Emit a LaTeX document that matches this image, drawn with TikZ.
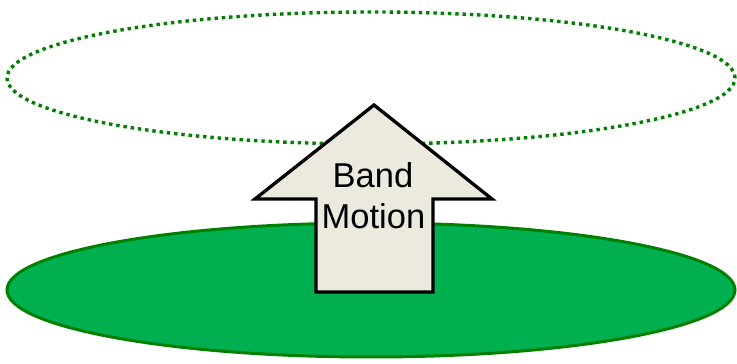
\documentclass[tikz,border=0pt]{standalone}
\usepackage{fontspec}
\setmainfont{Liberation Sans}
\definecolor{bandgreen}{RGB}{0,176,80}
\definecolor{edgegreen}{RGB}{0,128,0}
\definecolor{arrowfill}{RGB}{236,233,223}
\tikzset{
  dottedring/.style={draw=edgegreen, line width=3.4pt, line cap=butt, dash pattern=on 3.4pt off 3.9pt},
  solidring/.style={draw=edgegreen, fill=bandgreen, line width=3pt},
  bigarrow/.style={draw=black, fill=arrowfill, line width=3.3pt, line join=miter},
  arrowtext/.style={anchor=base, inner sep=0pt, font=\fontsize{34.5}{41}\selectfont}
}
\begin{document}
\begin{tikzpicture}[x=1pt,y=1pt]
\useasboundingbox (0,0) rectangle (737,364);
\path[dottedring] (371,286) ellipse [x radius=364, y radius=66];
\path[solidring] (371,74) ellipse [x radius=364, y radius=67];
\path[bigarrow] (374,259) -- (492,165) -- (433,165) -- (433,72) -- (316,72) -- (316,165) -- (255,165) -- cycle;
\node[arrowtext] (band) at (373,176) {Band};
\node[arrowtext] (motion) at (373.5,135) {Motion};
\end{tikzpicture}
\end{document}
